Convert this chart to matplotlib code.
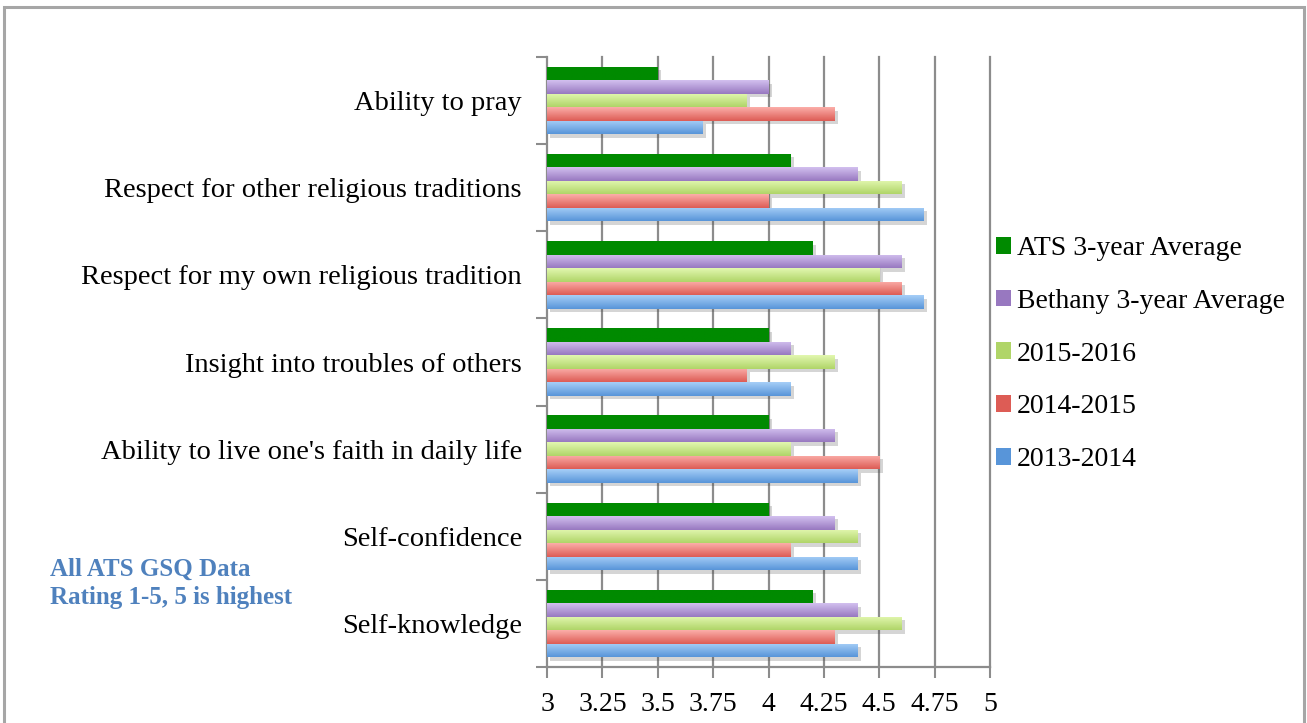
import matplotlib
matplotlib.use("Agg")
import matplotlib.pyplot as plt
import matplotlib.patheffects as pe
from matplotlib.patches import Rectangle
from matplotlib.colors import LinearSegmentedColormap
import numpy as np

categories = ["Ability to pray", "Respect for other religious traditions",
              "Respect for my own religious tradition", "Insight into troubles of others",
              "Ability to live one's faith in daily life", "Self-confidence", "Self-knowledge"]
series_names = ["ATS 3-year Average", "Bethany 3-year Average", "2015-2016", "2014-2015", "2013-2014"]
ats_avg = [3.5, 4.1, 4.2, 4.0, 4.0, 4.0, 4.2]
bethany_avg = [4.0, 4.4, 4.6, 4.1, 4.3, 4.3, 4.4]
y2015_2016 = [3.9, 4.6, 4.5, 4.3, 4.1, 4.4, 4.6]
y2014_2015 = [4.3, 4.0, 4.6, 3.9, 4.5, 4.1, 4.3]
y2013_2014 = [3.7, 4.7, 4.7, 4.1, 4.4, 4.4, 4.4]
xticks = [3, 3.25, 3.5, 3.75, 4, 4.25, 4.5, 4.75, 5]
xtick_labels = ["3", "3.25", "3.5", "3.75", "4", "4.25", "4.5", "4.75", "5"]

series = [ats_avg, bethany_avg, y2015_2016, y2014_2015, y2013_2014]
# (top colour, bottom colour) of each bar gradient
grads = [("#008A00", "#008A00"), ("#D2C0EF", "#9878C0"), ("#E2F7B0", "#B0D568"),
         ("#FBAEA9", "#DD5C55"), ("#A6CEF7", "#5895D9")]

plt.rcParams['font.family'] = ['Liberation Serif', 'DejaVu Serif']

fig = plt.figure(figsize=(13.07, 7.23), dpi=100)
ax = fig.add_axes([547/1307, 1 - 667/723, 443/1307, 610/723])

# outer frame of the chart area
fig.patches.append(Rectangle((4/1307, -0.05), 1300/1307, 1.05 - 7/723, transform=fig.transFigure,
                             fill=False, edgecolor="#A6A6A6", linewidth=2.2, zorder=0))

n = len(categories)
h = 0.155
ypos = np.arange(n)[::-1]
grad = np.linspace(0, 1, 50).reshape(-1, 1)
for k, vals in enumerate(series):
    top, bottom = grads[k]
    cmap = LinearSegmentedColormap.from_list("g%d" % k, [bottom, top])
    offs = (2 - k) * h
    bars = ax.barh(ypos + offs, np.array(vals) - 3, left=3, height=h, color=grads[k][1],
                   zorder=3, linewidth=0, label=series_names[k],
                   path_effects=[pe.SimplePatchShadow(offset=(2.5, -2.5), alpha=0.22, shadow_rgbFace="#444444"),
                                 pe.Normal()])
    for b in bars:
        x0, y0, w, hh = b.get_x(), b.get_y(), b.get_width(), b.get_height()
        im = ax.imshow(grad, extent=[x0, x0 + w, y0, y0 + hh], origin="lower", cmap=cmap,
                       aspect="auto", zorder=4, interpolation="bilinear")
        im.set_clip_path(b)

ax.set_xlim(3, 5)
ax.set_ylim(-0.5, n - 0.5)
ax.set_xticks(xticks)
ax.set_xticklabels(xtick_labels, fontsize=20)
ax.set_yticks(ypos)
ax.set_yticklabels(categories, fontsize=20.5)
ax.set_yticks(np.arange(-0.5, n, 1.0), minor=True)
ax.tick_params(axis="y", which="major", length=0, pad=18)
ax.tick_params(axis="y", which="minor", length=8, width=1.5, color="#8C8C8C", direction="out")
ax.tick_params(axis="x", length=8, width=1.5, color="#8C8C8C", direction="out", pad=10)

for x in xticks[1:]:
    ax.axvline(x, color="#8C8C8C", linewidth=1.6, zorder=1, clip_on=False)
for s in ["top", "right"]:
    ax.spines[s].set_visible(False)
for s in ["left", "bottom"]:
    ax.spines[s].set_color("#8C8C8C")
    ax.spines[s].set_linewidth(1.6)

handles, labels = ax.get_legend_handles_labels()
leg = fig.legend(handles, labels, loc="upper left", bbox_to_anchor=(985/1307, 1 - 225/723),
                 frameon=False, fontsize=20, handlelength=0.55, handleheight=0.55,
                 handletextpad=0.2, labelspacing=1.0, borderaxespad=0)
for patch, (top, bottom) in zip(leg.get_patches(), grads):
    patch.set_path_effects([])
    patch.set_facecolor(bottom)

fig.text(50/1307, 1 - 583/723, "All ATS GSQ Data\nRating 1-5, 5 is highest", color="#4F81BD",
         fontsize=18, fontweight="bold", va="center", ha="left", linespacing=1.3)

fig.savefig("out.png", dpi=100)
